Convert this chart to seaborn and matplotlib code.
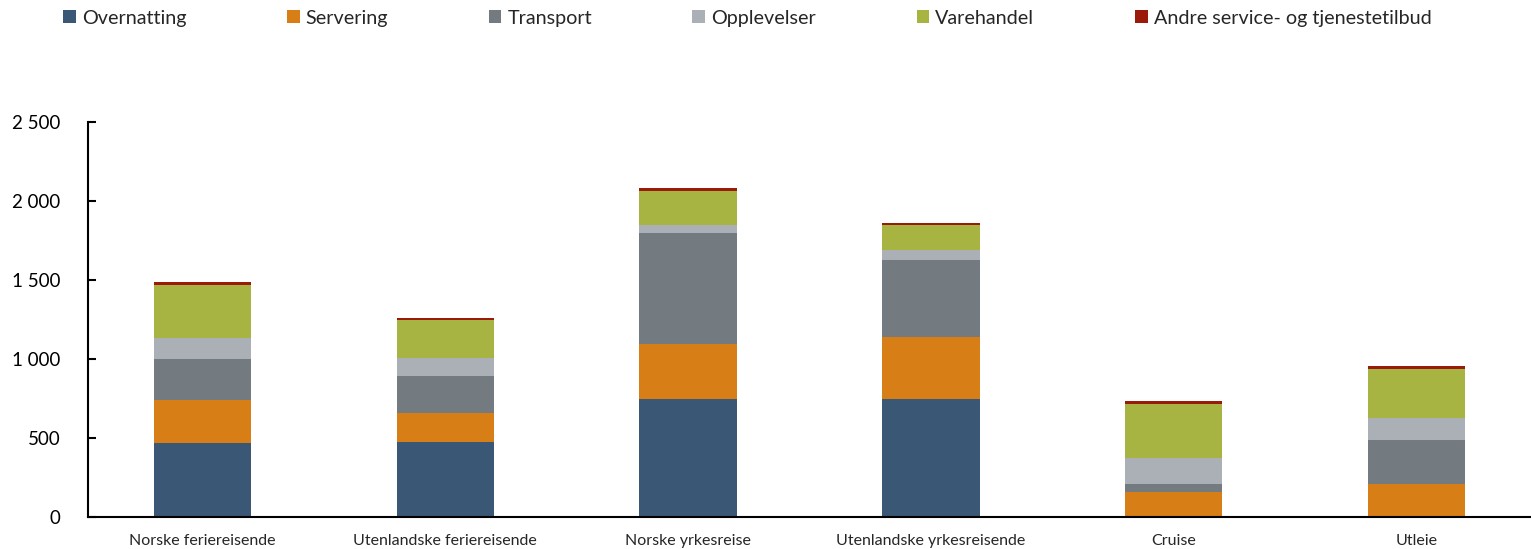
import pandas as pd
import matplotlib
matplotlib.use("Agg")
import matplotlib.pyplot as plt
import seaborn as sns

# data
kategorier = ["Norske feriereisende", "Utenlandske feriereisende", "Norske yrkesreise",
              "Utenlandske yrkesreisende", "Cruise", "Utleie"]
overnatting = [468, 473, 747, 747, 0, 0]
servering = [275, 182, 344, 391, 156, 211]
transport = [257, 238, 703, 487, 51, 274]
opplevelser = [135, 114, 53, 61, 169, 144]
varehandel = [331, 239, 217, 160, 338, 308]
andre = [21, 11, 17, 11, 21, 17]

serier = {
    "Overnatting": overnatting,
    "Servering": servering,
    "Transport": transport,
    "Opplevelser": opplevelser,
    "Varehandel": varehandel,
    "Andre service- og tjenestetilbud": andre,
}
farger = ["#3A5875", "#D87E16", "#737A80", "#AAB0B6", "#A8B442", "#9B1B0A"]

df = pd.DataFrame(serier, index=kategorier)
cum = df.cumsum(axis=1)

sns.set_style("white")
plt.rcParams["font.family"] = ["Lato", "DejaVu Sans"]

fig = plt.figure(figsize=(15.31, 5.49), dpi=100)
ax = fig.add_axes([0.0575, 0.0583, 0.9425, 0.72])

# draw from the top layer down so each stacked bar covers the one above
kol = list(df.columns)
for i in range(len(kol) - 1, -1, -1):
    d = pd.DataFrame({"kategori": kategorier, "verdi": cum[kol[i]].values})
    sns.barplot(data=d, x="kategori", y="verdi", color=farger[i], width=0.4,
                saturation=1, ax=ax, label=kol[i], edgecolor="none")

ax.set_xlim(-0.47, 5.47)
ax.set_ylim(0, 2500)
ax.set_yticks([0, 500, 1000, 1500, 2000, 2500])
ax.set_yticklabels(["0", "500", "1 000", "1 500", "2 000", "2 500"], fontsize=13.5)
ax.set_xlabel("")
ax.set_ylabel("")
ax.tick_params(axis="y", left=True, direction="in", length=6, width=1.5, pad=20, colors="black")
ax.tick_params(axis="x", length=0, pad=12, labelsize=11.5)
for s in ["top", "right"]:
    ax.spines[s].set_visible(False)
for s in ["left", "bottom"]:
    ax.spines[s].set_linewidth(1.5)
    ax.spines[s].set_color("black")

handles, labels = ax.get_legend_handles_labels()
hl = dict(zip(labels, handles))
if ax.legend_:
    ax.legend_.remove()
fig.legend([hl[k] for k in kol], kol, loc="upper left", bbox_to_anchor=(0.0295, 1.015),
           ncol=6, frameon=False, fontsize=14.2, handlelength=0.65, handleheight=0.65,
           handletextpad=0.3, columnspacing=5.1)

fig.savefig("out.png", dpi=100)
